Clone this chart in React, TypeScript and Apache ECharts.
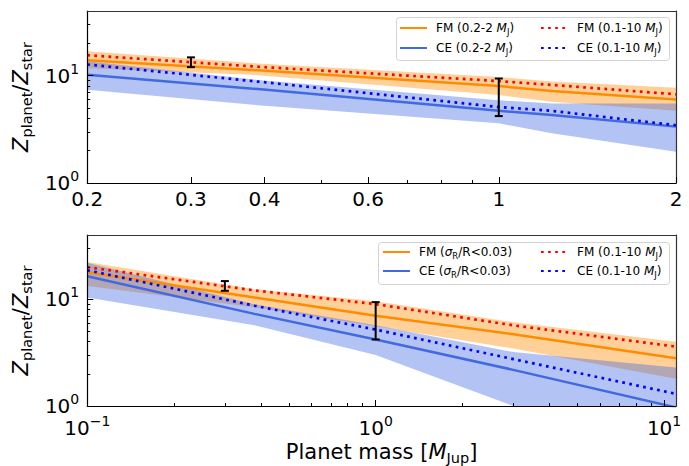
import React, { useEffect, useRef } from "react";
import * as echarts from "echarts";

// ---------- data ----------
// Top panel: planet mass [M_Jup]
const topMass = [0.2, 0.39, 1, 1.23, 2];
const topFmHigh = [16.9, 13.0, 9.7, 8.8, 7.7];
const topFmLow = [11.7, 10.1, 6.6, 5.7, 4.7];
const topFmMid = [13.9, 11.2, 8.0, 7.2, 6.0];
const topCeHigh = [13.6, 9.1, 5.9, 5.5, 5.5];
const topCeLow = [7.4, 5.3, 3.6, 2.9, 1.95];
const topCeMid = [10.2, 7.5, 4.7, 4.3, 3.35];
const topFmDot = [15.5, 12.1, 8.9, 8.2, 6.7];
const topCeDot = [12.7, 8.8, 5.1, 4.7, 3.45];

// Bottom panel
const botMass = [0.1, 0.38, 1, 3, 11];
const botFmHigh = [22.3, 12.4, 9.6, 6.1, 4.0];
const botFmLow = [13.3, 8.4, 5.6, 3.45, 1.8];
const botFmMid = [17.9, 10.4, 7.0, 4.7, 2.8];
const botCeHigh = [22.0, 9.0, 5.7, 3.2, 2.3];
const botCeLow = [10.4, 5.7, 3.0, 1.0, 0.32];
const botCeMid = [16.4, 7.3, 4.2, 2.18, 0.97];
const botFmDot = [20.0, 12.1, 9.0, 5.7, 3.6];
const botCeDot = [18.7, 8.7, 5.2, 2.75, 1.3];

// Observed planets (Saturn, Jupiter)
const obsMass = [0.3, 1];
const obsLow = [12.0, 4.2];
const obsHigh = [14.8, 9.4];

// Ticks and ranges
const topXRange = [0.2, 2];
const botXRange = [0.1, 11];
const yRange = [1, 40];
const topXMajor = [0.2, 0.3, 0.4, 0.6, 1, 2];
const topXMinor = [0.5, 0.7, 0.8, 0.9];
const botXMajor = [0.1, 1, 10];
const botXMinor = [0.2, 0.3, 0.4, 0.5, 0.6, 0.7, 0.8, 0.9, 2, 3, 4, 5, 6, 7, 8, 9];
const yMajor = [1, 10];
const yMinor = [2, 3, 4, 5, 6, 7, 8, 9, 20, 30];

const legendLabels: Record<string, string> = {
  topFm: "FM (0.2-2 {i|M}{sub|J})",
  topCe: "CE (0.2-2 {i|M}{sub|J})",
  topFmDot: "FM (0.1-10 {i|M}{sub|J})",
  topCeDot: "CE (0.1-10 {i|M}{sub|J})",
  botFm: "FM ({i|σ}{sub|R}/R<0.03)",
  botCe: "CE ({i|σ}{sub|R}/R<0.03)",
  botFmDot: "FM (0.1-10 {i|M}{sub|J})",
  botCeDot: "CE (0.1-10 {i|M}{sub|J})",
};

const FONT = "DejaVu Sans";
const ORANGE = "#FF8C00";
const ROYAL = "#4169E1";
const ORANGE_BAND = "rgba(255,140,0,0.4)";
const BLUE_BAND = "rgba(65,105,225,0.4)";

const lg = (v: number) => Math.log10(v);

function bandSeries(xs: number[], lo: number[], hi: number[], color: string, xi: number, yi: number) {
  return {
    type: "custom", xAxisIndex: xi, yAxisIndex: yi, silent: true, z: 1,
    data: xs.map((m, i) => [lg(m), lg(lo[i]), lg(hi[i])]),
    encode: { x: 0, y: [1, 2] },
    renderItem: (params: any, api: any) => {
      if (params.dataIndex !== 0) return null;
      const upper = xs.map((m, i) => api.coord([lg(m), lg(hi[i])]));
      const lower = xs.map((m, i) => api.coord([lg(m), lg(lo[i])])).reverse();
      const cs = params.coordSys;
      return {
        type: "polygon",
        shape: { points: upper.concat(lower) },
        style: { fill: color, stroke: "none" },
        clipPath: { type: "rect", shape: { x: cs.x, y: cs.y, width: cs.width, height: cs.height } },
      };
    },
  };
}

function lineSeries(name: string, xs: number[], ys: number[], color: string, dotted: boolean, xi: number, yi: number) {
  return {
    type: "line", name, xAxisIndex: xi, yAxisIndex: yi, color,
    data: xs.map((m, i) => [lg(m), lg(ys[i])]), symbol: "none", silent: true,
    lineStyle: dotted
      ? { color, width: 2.7, type: [2.7, 4.4], cap: "butt" }
      : { color, width: 2.5 },
    z: dotted ? 3 : 2,
  };
}

function errSeries(xi: number, yi: number) {
  return {
    type: "custom", xAxisIndex: xi, yAxisIndex: yi, silent: true, z: 6,
    data: obsMass.map((m, i) => [lg(m), lg(obsLow[i]), lg(obsHigh[i])]),
    encode: { x: 0, y: [1, 2] },
    renderItem: (_p: any, api: any) => {
      const a = api.coord([api.value(0), api.value(1)]);
      const b = api.coord([api.value(0), api.value(2)]);
      const w = 4;
      const style = { stroke: "#000", lineWidth: 2 };
      return {
        type: "group",
        children: [
          { type: "line", shape: { x1: a[0], y1: a[1], x2: b[0], y2: b[1] }, style },
          { type: "line", shape: { x1: a[0] - w, y1: a[1], x2: a[0] + w, y2: a[1] }, style },
          { type: "line", shape: { x1: b[0] - w, y1: b[1], x2: b[0] + w, y2: b[1] }, style },
        ],
      };
    },
  };
}

const supRich = {
  b: { fontFamily: FONT, fontSize: 20, lineHeight: 28, color: "#000" },
  sup: { fontFamily: FONT, fontSize: 14, lineHeight: 14, verticalAlign: "top", color: "#000" },
};
const nameRich = {
  i: { fontFamily: FONT, fontStyle: "italic", fontSize: 21, lineHeight: 26, color: "#000" },
  sub: { fontFamily: FONT, fontSize: 14.5, lineHeight: 15, verticalAlign: "bottom", color: "#000" },
};

const fmtPlain = (v: number) => String(Number(Math.pow(10, v).toPrecision(3)));
const fmtPow = (v: number) => {
  const e = Math.round(v);
  return `{b|10}{sup|${e < 0 ? "\u2212" + Math.abs(e) : e}}`;
};

function xAxes(grid: number, range: number[], major: number[], minor: number[], plain: boolean, name?: string) {
  const min = lg(range[0]);
  const max = lg(range[1]);
  const base = { type: "value", gridIndex: grid, min, max, splitLine: { show: false }, z: 5 };
  return [
    {
      ...base,
      position: "bottom",
      axisLine: { show: true, onZero: false, lineStyle: { color: "#000", width: 1.2 } },
      axisTick: { show: true, inside: true, length: 6, customValues: major.map(lg), lineStyle: { color: "#000", width: 1 } },
      axisLabel: plain
        ? { customValues: major.map(lg), formatter: fmtPlain, fontFamily: FONT, fontSize: 20, lineHeight: 24, color: "#000", margin: 4 }
        : { customValues: major.map(lg), formatter: fmtPow, fontFamily: FONT, fontSize: 20, color: "#000", margin: 8, rich: supRich },
      name: name || "",
      nameLocation: "middle",
      nameGap: 33,
      nameTextStyle: { fontFamily: FONT, fontSize: 21, lineHeight: 26, color: "#000", rich: nameRich },
    },
    {
      ...base,
      position: "bottom",
      axisLine: { show: false, onZero: false },
      axisTick: { show: true, inside: true, length: 3, customValues: minor.map(lg), lineStyle: { color: "#000", width: 1 } },
      axisLabel: { show: false },
    },
    {
      ...base,
      position: "top",
      axisLine: { show: true, onZero: false, lineStyle: { color: "#333", width: 1.2 } },
      axisTick: { show: false },
      axisLabel: { show: false },
    },
  ];
}

function yAxes(grid: number) {
  const min = lg(yRange[0]);
  const max = lg(yRange[1]);
  const base = { type: "value", gridIndex: grid, min, max, splitLine: { show: false }, z: 5 };
  return [
    {
      ...base,
      position: "left",
      axisLine: { show: true, onZero: false, lineStyle: { color: "#000", width: 1.2 } },
      axisTick: { show: true, inside: true, length: 6, customValues: yMajor.map(lg), lineStyle: { color: "#000", width: 1 } },
      axisLabel: { customValues: yMajor.map(lg), formatter: fmtPow, fontFamily: FONT, fontSize: 20, color: "#000", margin: 8, rich: supRich },
      name: "{i|Z}{sub|planet}/{i|Z}{sub|star}",
      nameLocation: "middle",
      nameRotate: 90,
      nameGap: 44,
      nameTextStyle: { fontFamily: FONT, fontSize: 21, lineHeight: 26, color: "#000", rich: nameRich },
    },
    {
      ...base,
      position: "left",
      axisLine: { show: false, onZero: false },
      axisTick: { show: true, inside: true, length: 3, customValues: yMinor.map(lg), lineStyle: { color: "#000", width: 1 } },
      axisLabel: { show: false },
    },
    {
      ...base,
      position: "right",
      axisLine: { show: true, onZero: false, lineStyle: { color: "#333", width: 1.2 } },
      axisTick: { show: false },
      axisLabel: { show: false },
    },
  ];
}

const legendText = {
  fontFamily: FONT, fontSize: 12, lineHeight: 16, color: "#000", padding: [0, 0, 0, 4],
  rich: {
    i: { fontFamily: FONT, fontStyle: "italic", fontSize: 12, lineHeight: 16, color: "#000" },
    sub: { fontFamily: FONT, fontSize: 8.5, lineHeight: 10, verticalAlign: "bottom", color: "#000" },
  },
};

function legend(names: string[], left: number, top: number, gap: number) {
  return {
    orient: "vertical", left, top, padding: 0, itemGap: gap, itemWidth: 27, itemHeight: 14,
    data: names, selectedMode: false, formatter: (n: string) => legendLabels[n] || n,
    itemStyle: { color: "rgba(0,0,0,0)", borderWidth: 0, opacity: 0 },
    textStyle: legendText, z: 8,
  };
}

export default function App() {
  const ref = useRef<HTMLDivElement>(null);
  useEffect(() => {
    if (!ref.current) return;
    const chart = echarts.init(ref.current, undefined, { renderer: "svg" });
    const option: any = {
      animation: false,
      backgroundColor: "#fff",
      grid: [
        { left: 80, right: 13, top: 11, height: 172, containLabel: false },
        { left: 80, right: 13, top: 235, height: 173, containLabel: false },
      ],
      xAxis: [
        ...xAxes(0, topXRange, topXMajor, topXMinor, true),
        ...xAxes(1, botXRange, botXMajor, botXMinor, false, "Planet mass [{i|M}{sub|Jup}]"),
      ],
      yAxis: [...yAxes(0), ...yAxes(1)],
      legend: [
        legend(["topFm", "topCe"], 399, 20, 4),
        legend(["topFmDot", "topCeDot"], 540, 20, 4),
        legend(["botFm", "botCe"], 382, 244, 3),
        legend(["botFmDot", "botCeDot"], 540, 244, 3),
      ],
      graphic: [
        { type: "rect", left: 396, top: 17, shape: { width: 273, height: 43, r: 3 }, style: { fill: "rgba(255,255,255,0.8)", stroke: "#d3d3d3", lineWidth: 1 }, z: 7 },
        { type: "rect", left: 378, top: 242, shape: { width: 291, height: 42, r: 3 }, style: { fill: "rgba(255,255,255,0.8)", stroke: "#d3d3d3", lineWidth: 1 }, z: 7 },
      ],
      series: [
        bandSeries(topMass, topFmLow, topFmHigh, ORANGE_BAND, 0, 0),
        bandSeries(topMass, topCeLow, topCeHigh, BLUE_BAND, 0, 0),
        lineSeries("topFm", topMass, topFmMid, ORANGE, false, 0, 0),
        lineSeries("topCe", topMass, topCeMid, ROYAL, false, 0, 0),
        lineSeries("topFmDot", topMass, topFmDot, "#FF0000", true, 0, 0),
        lineSeries("topCeDot", topMass, topCeDot, "#0000FF", true, 0, 0),
        errSeries(0, 0),
        bandSeries(botMass, botFmLow, botFmHigh, ORANGE_BAND, 3, 3),
        bandSeries(botMass, botCeLow, botCeHigh, BLUE_BAND, 3, 3),
        lineSeries("botFm", botMass, botFmMid, ORANGE, false, 3, 3),
        lineSeries("botCe", botMass, botCeMid, ROYAL, false, 3, 3),
        lineSeries("botFmDot", botMass, botFmDot, "#FF0000", true, 3, 3),
        lineSeries("botCeDot", botMass, botCeDot, "#0000FF", true, 3, 3),
        errSeries(3, 3),
      ],
    };
    chart.setOption(option);
    return () => chart.dispose();
  }, []);
  return <div ref={ref} style={{ position: "absolute", left: 0, top: 0, width: 689, height: 466 }} />;
}
